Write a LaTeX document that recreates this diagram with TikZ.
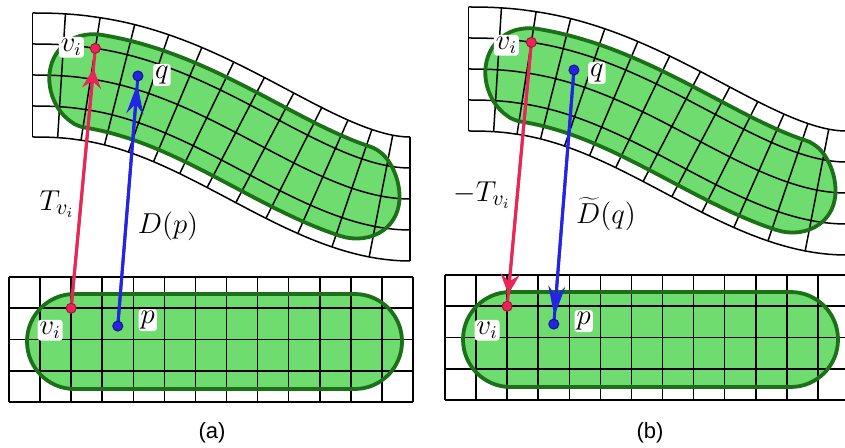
\documentclass[tikz,border=0pt]{standalone}
\usepackage{fontspec}
\newfontfamily\capfont{Liberation Sans}
\usetikzlibrary{arrows.meta}
\definecolor{blobfill}{RGB}{110,220,110}
\definecolor{blobedge}{RGB}{28,112,24}
\definecolor{redc}{RGB}{232,38,88}
\definecolor{redd}{RGB}{170,20,55}
\definecolor{bluec}{RGB}{36,36,228}
\definecolor{blued}{RGB}{20,20,140}

\newcommand{\blobtop}[1]{%
 \path[#1] plot[domain=2.1:11.12,samples=40,variable=\xx] ({wx(\xx,0.54)},{wy(\xx,0.54)})
 -- plot[domain=-90:90,samples=31,variable=\xx] ({wx(11.12+1.52*cos(\xx),2.06+1.52*sin(\xx))},{wy(11.12+1.52*cos(\xx),2.06+1.52*sin(\xx))})
 -- plot[domain=11.12:2.1,samples=40,variable=\xx] ({wx(\xx,3.58)},{wy(\xx,3.58)})
 -- plot[domain=90:270,samples=31,variable=\xx] ({wx(2.1+1.52*cos(\xx),2.06+1.52*sin(\xx))},{wy(2.1+1.52*cos(\xx),2.06+1.52*sin(\xx))})
 -- cycle;}
\newcommand{\blobbot}[1]{\path[#1,rounded corners=23.7pt] (27,294) rectangle (402,389);}
\newcommand{\topgrid}{%
 \blobtop{fill=blobfill}
 \foreach \j in {0,...,4}{\draw[gridline] plot[domain=0:13,samples=66,variable=\xx] ({wx(\xx,\j)},{wy(\xx,\j)});}
 \foreach \k in {0,...,13}{\draw[gridline] ({wx(\k,0)},{wy(\k,0)}) -- ({wx(\k,4)},{wy(\k,4)});}
 \blobtop{draw=blobedge,line width=1.9pt}}
\newcommand{\botgrid}{%
 \blobbot{fill=blobfill}
 \foreach \j in {0,...,4}{\draw[gridline] ({bx(0)},{by(\j)}) -- ({bx(13)},{by(\j)});}
 \foreach \k in {0,...,13}{\draw[gridline] ({bx(\k)},{by(0)}) -- ({bx(\k)},{by(4)});}
 \blobbot{draw=blobedge,line width=1.9pt}}

\begin{document}
\begin{tikzpicture}[x=0.5pt,y=-0.5pt,
  declare function={
    tq(\w)=max(\w,0.0005);
    sw(\w)=tq(\w)^1.2;
    Sg(\w)=3*sw(\w)^2-2*sw(\w)^3;
    dS(\w)=7.2*sw(\w)*(1-sw(\w))*tq(\w)^0.2;
    ms(\w)=0.32847*dS(\w);
    nn(\w)=sqrt(1+ms(\w)^2);
    wx(\uu,\vv)=32.5+29.038*\uu+(2-\vv)*31*ms(\uu/13)/nn(\uu/13);
    wy(\uu,\vv)=75+124*Sg(\uu/13)+(\vv-2)*31/nn(\uu/13);
    bx(\uu)=9+31.08*\uu;
    by(\vv)=277+31.25*\vv;
  },
  gridline/.style={draw=black,line width=0.75pt},
  redline/.style={draw=redc,line width=1.5pt},
  blueline/.style={draw=bluec,line width=1.5pt},
  redtip/.style={-{Stealth[length=10pt,width=9.5pt,inset=3.5pt]}},
  bluetip/.style={-{Stealth[length=15pt,width=8.5pt,inset=5pt]}},
  reddot/.style={circle,fill=redc,draw=redd,line width=0.5pt,minimum size=5pt,inner sep=0pt},
  bluedot/.style={circle,fill=bluec,draw=blued,line width=0.5pt,minimum size=5pt,inner sep=0pt},
  lab/.style={fill=white,rounded corners=1.5pt,inner sep=1pt,font=\fontsize{13.5}{16}\selectfont},
  arrlab/.style={inner sep=0pt,font=\fontsize{15}{18}\selectfont},
  captext/.style={inner sep=0pt,font=\capfont\fontsize{11}{13}\selectfont}]
\useasboundingbox (0,0) rectangle (845,448);
\clip (0,0) rectangle (845,448);
% ---------- panel (a)
\topgrid
\botgrid
\coordinate (va) at ({wx(2,1)},{wy(2,1)});
\coordinate (qa) at ({wx(3.5,1.57)},{wy(3.5,1.57)});
\coordinate (vb) at ({bx(2)},{by(1)});
\coordinate (pb) at ({bx(3.5)},{by(1.57)});
% ---------- panel (b)
\begin{scope}[shift={(436,-6)}]
 \topgrid
 \coordinate (va2) at ({wx(2,1)},{wy(2,1)});
 \coordinate (qa2) at ({wx(3.5,1.57)},{wy(3.5,1.57)});
\end{scope}
\begin{scope}[shift={(436,-2)}]
 \botgrid
 \coordinate (vb2) at ({bx(2)},{by(1)});
 \coordinate (pb2) at ({bx(3.5)},{by(1.57)});
\end{scope}
% ---------- arrows (a)
\draw[redline] (vb) -- (va);
\draw[redline,redtip,shorten >=10pt] (vb) -- (va);
\draw[blueline] (pb) -- (qa);
\draw[blueline,bluetip,shorten >=4pt] (pb) -- (qa);
% ---------- arrows (b)
\draw[redline] (va2) -- (vb2);
\draw[redline,redtip,shorten >=6pt] (va2) -- (vb2);
\draw[blueline] (qa2) -- (pb2);
\draw[blueline,bluetip,shorten >=4pt] (qa2) -- (pb2);
% ---------- dots
\node[reddot] (dva) at (va) {};
\node[bluedot] (dqa) at (qa) {};
\node[reddot] (dvb) at (vb) {};
\node[bluedot] (dpb) at (pb) {};
\node[reddot] (dva2) at (va2) {};
\node[bluedot] (dqa2) at (qa2) {};
\node[reddot] (dvb2) at (vb2) {};
\node[bluedot] (dpb2) at (pb2) {};
% ---------- labels
\node[lab] (lva) at ([shift={(-24,-1)}]va) {$v_i$};
\node[lab] (lqa) at ([shift={(24,-1)}]qa) {$q$};
\node[lab] (lvb) at ([shift={(-21,22)}]vb) {$v_i$};
\node[lab] (lpb) at ([shift={(30,-6)}]pb) {$p$};
\node[lab] (lva2) at ([shift={(-25,3)}]va2) {$v_i$};
\node[lab] (lqa2) at ([shift={(23,3)}]qa2) {$q$};
\node[lab] (lvb2) at ([shift={(-20,24)}]vb2) {$v_i$};
\node[lab] (lpb2) at ([shift={(30,-3)}]pb2) {$p$};
\node[arrlab] (ta) at (57,204) {$T_{v_i}$};
\node[arrlab] (da) at (168,226) {$D(p)$};
\node[arrlab] (tb) at (482,195) {$-T_{v_i}$};
\node[arrlab] (db) at (606,214) {$\widetilde{D}(q)$};
\node[captext] (capa) at (212,433) {(a)};
\node[captext] (capb) at (650,433) {(b)};
\end{tikzpicture}
\end{document}
